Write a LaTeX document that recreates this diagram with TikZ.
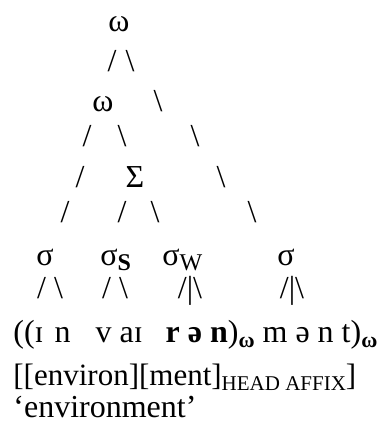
\documentclass[tikz,border=0pt]{standalone}
\usepackage{fontspec}
\setmainfont{Liberation Serif}
\usetikzlibrary{positioning}
\newcommand{\lowsub}[2][10]{\raisebox{-2.5pt}{\fontsize{#1}{#1}\selectfont #2}}
\tikzset{
  treelabel/.style={inner sep=0pt, anchor=base, font=\fontsize{16}{19}\selectfont},
  branch/.style={inner sep=0pt, anchor=base, font=\fontsize{16}{19}\selectfont},
  glossline/.style={inner sep=0pt, anchor=base west, font=\fontsize{16}{19}\selectfont}
}
\begin{document}
\begin{tikzpicture}[x=0.5pt,y=-0.5pt]
\useasboundingbox (0,0) rectangle (379,421);
% prosodic word on top
\node[treelabel] (root) at (119,32) {ω};
\node[branch] (rootL) at (112,72) {/};
\node[branch] (rootR) at (130,72) {\textbackslash};
\node[treelabel] (inner) at (103,112) {ω};
\node[branch] (rightA) at (158,112) {\textbackslash};
\node[branch] (innerL) at (87,147) {/};
\node[branch] (innerR) at (122,147) {\textbackslash};
\node[branch] (rightB) at (195,147) {\textbackslash};
\node[branch] (leftA) at (80,188) {/};
\node[treelabel] (foot) at (135,188) {Σ};
\node[branch] (rightC) at (221,188) {\textbackslash};
\node[branch] (leftB) at (65,223) {/};
\node[branch] (footL) at (122,223) {/};
\node[branch] (footR) at (155,223) {\textbackslash};
\node[branch] (rightD) at (252,223) {\textbackslash};
% syllables
\node[treelabel] (syl1) at (45,265) {σ};
\node[treelabel, anchor=base west] (syl2) at (100,265) {σ\lowsub[12]{\textbf{S}}};
\node[treelabel, anchor=base west] (syl3) at (162,265) {σ\lowsub[12]{W}};
\node[treelabel] (syl4) at (286,265) {σ};
\node[branch] (seg1) at (50,298) {/ \textbackslash};
\node[branch] (seg2) at (115,298) {/ \textbackslash};
\node[branch] (seg3) at (190,298) {/|\textbackslash};
\node[branch] (seg4) at (292,298) {/|\textbackslash};
% segments and gloss
\node[glossline] (ipa) at (13,342) {((ɪ\hspace{5.5pt}n\hspace{12.5pt}v aɪ\hspace{11.5pt}\textbf{r ə n})\lowsub[11]{\textbf{ω}} m ə n t)\lowsub[11]{\textbf{ω}}};
\node[glossline, font=\fontsize{15.5}{19}\selectfont] (morph) at (13,385) {[[environ][ment]\lowsub[10.5]{HEAD AFFIX}]};
\node[glossline] (gloss) at (13,417) {‘environment’};
\end{tikzpicture}
\end{document}
